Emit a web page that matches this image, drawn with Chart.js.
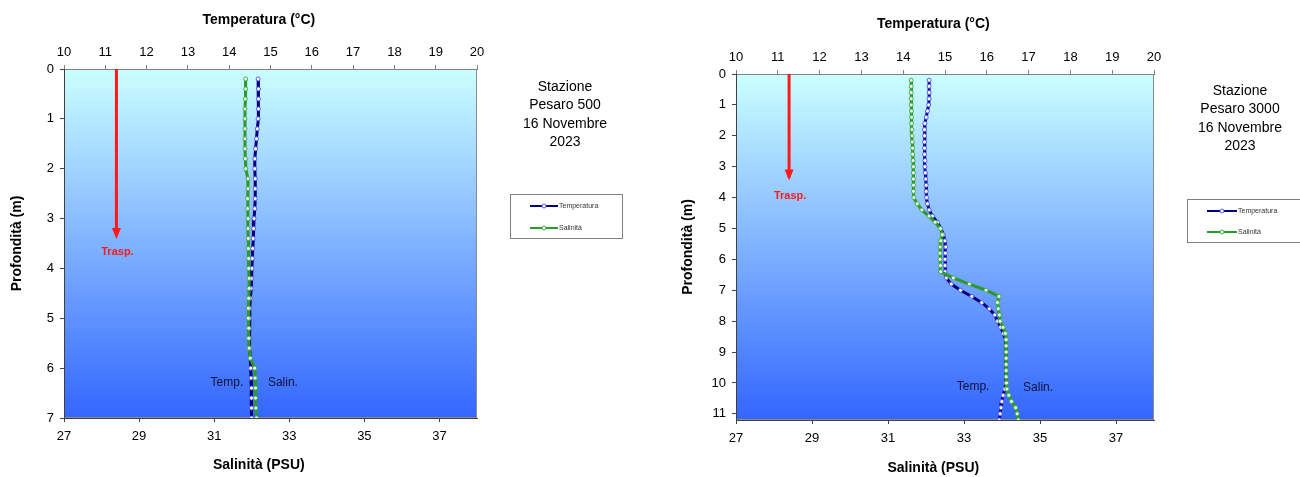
<!DOCTYPE html>
<html lang="it">
<head>
<meta charset="utf-8">
<title>Profili CTD Pesaro 500 / Pesaro 3000</title>
<script src="https://cdn.jsdelivr.net/npm/chart.js@4.4.1/dist/chart.umd.min.js"></script>
<style>
  html, body { margin: 0; padding: 0; background: #fff; }
  #wrap { position: relative; width: 1300px; height: 477px; overflow: hidden; }
  canvas { position: absolute; top: 0; }
  #chartL { left: 0; }
  #chartR { left: 650px; }
</style>
</head>
<body>
<div id="wrap">
  <canvas id="chartL" width="650" height="477"></canvas>
  <canvas id="chartR" width="650" height="477"></canvas>
</div>
<script>
// Stazione Pesaro 500
const depthL = [0.2, 0.4, 0.6, 0.8, 1.0, 1.2, 1.4, 1.6, 1.8, 2.0, 2.2, 2.4, 2.6, 2.8, 3.0, 3.2, 3.4, 3.6,
  3.8, 4.0, 4.2, 4.4, 4.6, 4.8, 5.0, 5.2, 5.4, 5.6, 5.8, 6.0, 6.2, 6.4, 6.6, 6.8, 7.0];
const tempL = [14.70, 14.71, 14.71, 14.71, 14.70, 14.68, 14.66, 14.64, 14.62, 14.62, 14.63, 14.63, 14.63,
  14.62, 14.60, 14.59, 14.58, 14.57, 14.56, 14.55, 14.54, 14.53, 14.51, 14.50, 14.49, 14.49, 14.49, 14.50,
  14.51, 14.52, 14.53, 14.54, 14.54, 14.54, 14.54];
const salL = [31.84, 31.84, 31.83, 31.82, 31.82, 31.82, 31.82, 31.82, 31.83, 31.84, 31.90, 31.90, 31.89,
  31.89, 31.90, 31.90, 31.91, 31.91, 31.92, 31.92, 31.93, 31.93, 31.92, 31.91, 31.91, 31.92, 31.92, 31.93,
  31.96, 32.08, 32.09, 32.10, 32.10, 32.11, 32.13];

// Stazione Pesaro 3000
const depthR = [0.2, 0.4, 0.6, 0.8, 1.0, 1.2, 1.4, 1.6, 1.8, 2.0, 2.2, 2.4, 2.6, 2.8, 3.0, 3.2, 3.4, 3.6,
  3.8, 4.0, 4.2, 4.4, 4.6, 4.8, 5.0, 5.2, 5.4, 5.6, 5.8, 6.0, 6.2, 6.4, 6.6, 6.8, 7.0, 7.2, 7.4, 7.6, 7.8,
  8.0, 8.2, 8.4, 8.6, 8.8, 9.0, 9.2, 9.4, 9.6, 9.8, 10.0, 10.2, 10.4, 10.6, 10.8, 11.0, 11.2];
const tempR = [14.62, 14.62, 14.62, 14.62, 14.61, 14.58, 14.55, 14.52, 14.51, 14.51, 14.51, 14.51, 14.51,
  14.52, 14.52, 14.53, 14.54, 14.55, 14.55, 14.56, 14.58, 14.62, 14.70, 14.82, 14.90, 14.96, 15.00, 15.02,
  15.01, 15.00, 15.00, 15.00, 15.03, 15.15, 15.37, 15.64, 15.88, 16.06, 16.19, 16.26, 16.33, 16.40, 16.44,
  16.46, 16.46, 16.46, 16.46, 16.46, 16.46, 16.45, 16.43, 16.39, 16.36, 16.34, 16.32, 16.30];
const salR = [31.61, 31.61, 31.61, 31.61, 31.61, 31.62, 31.62, 31.62, 31.63, 31.63, 31.64, 31.65, 31.65,
  31.66, 31.67, 31.67, 31.67, 31.67, 31.67, 31.68, 31.77, 31.89, 32.08, 32.24, 32.38, 32.43, 32.39, 32.37,
  32.37, 32.37, 32.38, 32.39, 32.72, 33.14, 33.58, 33.92, 33.88, 33.90, 33.93, 33.95, 34.03, 34.09, 34.11,
  34.11, 34.11, 34.11, 34.11, 34.11, 34.11, 34.12, 34.13, 34.18, 34.25, 34.36, 34.40, 34.43];

// assi
const tempTicks = [10, 11, 12, 13, 14, 15, 16, 17, 18, 19, 20];
const salTicks = [27, 29, 31, 33, 35, 37];
const depthTicksL = [0, 1, 2, 3, 4, 5, 6, 7];
const depthTicksR = [0, 1, 2, 3, 4, 5, 6, 7, 8, 9, 10, 11];

// trasparenza (disco Secchi), m
const traspL = 3.35;
const traspR = 3.35;
const traspTemp = 11.27;

const stationL = ['Stazione', 'Pesaro 500', '16 Novembre', '2023'];
const stationR = ['Stazione', 'Pesaro 3000', '16 Novembre', '2023'];
const seriesNames = ['Temperatura', 'Salinità'];

const FONT = "'Liberation Sans', Arial, sans-serif";
const BLUE = '#00007a';
const BLUE_PT = '#5a5aff';
const GREEN = '#2a9a2a';
const GREEN_PT = '#3fb03f';
const RED = '#ff1a1a';

// i titoli in Excel stanno un po' a sinistra del centro: spazi finali
const PAD_TXT = '      ';

function toPoints(xs, ys) {
  return ys.map((d, i) => ({ x: xs[i], y: d }));
}

function drawLegend(ctx, lg) {
  ctx.fillStyle = '#fff';
  ctx.fillRect(lg.x, lg.y, lg.w, lg.h);
  ctx.strokeStyle = '#808080';
  ctx.lineWidth = 1;
  ctx.strokeRect(lg.x + 0.5, lg.y + 0.5, lg.w - 1, lg.h - 1);
  const cols = [[BLUE, BLUE_PT], [GREEN, GREEN_PT]];
  seriesNames.forEach((name, i) => {
    const yy = lg.y + lg.rows[i];
    ctx.strokeStyle = cols[i][0];
    ctx.lineWidth = 2;
    ctx.beginPath();
    ctx.moveTo(lg.x + lg.lx0, yy);
    ctx.lineTo(lg.x + lg.lx1, yy);
    ctx.stroke();
    ctx.fillStyle = '#fff';
    ctx.strokeStyle = cols[i][1];
    ctx.lineWidth = 1;
    ctx.beginPath();
    ctx.arc(lg.x + (lg.lx0 + lg.lx1) / 2, yy, 2, 0, Math.PI * 2);
    ctx.fill();
    ctx.stroke();
    ctx.fillStyle = '#333';
    ctx.font = '7px ' + FONT;
    ctx.textAlign = 'left';
    ctx.textBaseline = 'middle';
    ctx.fillText(name, lg.x + lg.lx1 + 1, yy);
  });
}

function makeChart(canvasId, cfg) {
  const decor = {
    id: 'decor',
    beforeDraw(chart) {
      const { ctx, chartArea: a } = chart;
      const g = ctx.createLinearGradient(0, a.top, 0, a.bottom);
      g.addColorStop(0, '#ccffff');
      g.addColorStop(1, '#3366ff');
      ctx.save();
      ctx.fillStyle = g;
      ctx.fillRect(a.left, a.top, a.right - a.left, a.bottom - a.top);
      ctx.strokeStyle = '#8c8c8c';
      ctx.lineWidth = 1;
      ctx.strokeRect(a.left + 0.5, a.top + 0.5, a.right - a.left - 1, a.bottom - a.top - 1);
      ctx.restore();
    },
    afterDatasetsDraw(chart) {
      const { ctx, scales } = chart;
      const ax = scales.xT.getPixelForValue(traspTemp);
      const ay = scales.y.getPixelForValue(cfg.trasp);
      ctx.save();
      // punta della freccia
      ctx.fillStyle = RED;
      ctx.beginPath();
      ctx.moveTo(ax - 4.5, ay - 8);
      ctx.lineTo(ax + 4.5, ay - 8);
      ctx.lineTo(ax, ay + 3);
      ctx.closePath();
      ctx.fill();
      ctx.font = 'bold 11px ' + FONT;
      ctx.textAlign = 'center';
      ctx.textBaseline = 'middle';
      ctx.fillText('Trasp.', ax + 1, ay + cfg.traspDy);
      // etichette dei profili
      ctx.font = '12px ' + FONT;
      ctx.fillStyle = '#10103a';
      ctx.fillText('Temp.', scales.xS.getPixelForValue(cfg.tempLabel[0]), scales.y.getPixelForValue(cfg.tempLabel[1]));
      ctx.fillText('Salin.', scales.xS.getPixelForValue(cfg.salLabel[0]), scales.y.getPixelForValue(cfg.salLabel[1]));
      ctx.restore();
    },
    afterDraw(chart) {
      const ctx = chart.ctx;
      ctx.save();
      ctx.fillStyle = '#000';
      ctx.font = '14px ' + FONT;
      ctx.textAlign = 'center';
      ctx.textBaseline = 'middle';
      cfg.station.forEach((line, i) => {
        ctx.fillText(line, cfg.stationX, cfg.stationY + i * 18.5);
      });
      drawLegend(ctx, cfg.legend);
      ctx.restore();
    }
  };

  const tickFont = { family: FONT, size: 13 };
  const titleFont = { family: FONT, size: 14, weight: 'bold' };

  return new Chart(document.getElementById(canvasId), {
    type: 'scatter',
    data: {
      datasets: [
        {
          label: seriesNames[1],
          data: toPoints(cfg.sal, cfg.depth),
          xAxisID: 'xS',
          yAxisID: 'y',
          showLine: true,
          borderColor: GREEN,
          borderWidth: 3,
          pointRadius: 2,
          pointBorderWidth: 1,
          pointBorderColor: GREEN_PT,
          pointBackgroundColor: '#ffffff',
          order: 1
        },
        {
          label: seriesNames[0],
          data: toPoints(cfg.temp, cfg.depth),
          xAxisID: 'xT',
          yAxisID: 'y',
          showLine: true,
          borderColor: BLUE,
          borderWidth: 3,
          pointRadius: 2,
          pointBorderWidth: 1,
          pointBorderColor: BLUE_PT,
          pointBackgroundColor: '#ffffff',
          order: 2
        },
        {
          label: 'Trasp.',
          data: [{ x: traspTemp, y: 0 }, { x: traspTemp, y: cfg.trasp }],
          xAxisID: 'xT',
          yAxisID: 'y',
          showLine: true,
          borderColor: RED,
          borderWidth: 3,
          pointRadius: 0,
          order: 0
        }
      ]
    },
    options: {
      responsive: false,
      animation: false,
      devicePixelRatio: 1,
      layout: { padding: { left: 0, right: cfg.padR, top: cfg.padT, bottom: 0 } },
      plugins: { legend: { display: false }, tooltip: { enabled: false } },
      scales: {
        xT: {
          type: 'linear',
          position: 'top',
          min: 10,
          max: 20,
          afterBuildTicks: s => { s.ticks = tempTicks.map(v => ({ value: v })); },
          afterFit: s => { s.height = 69; },
          ticks: { font: tickFont, color: '#000', padding: 5, maxRotation: 0 },
          grid: { drawOnChartArea: false, tickLength: 4, color: '#808080' },
          border: { color: '#808080' },
          title: { display: true, text: 'Temperatura (°C)' + PAD_TXT, font: titleFont, color: '#000', padding: { top: cfg.topTitlePad, bottom: 0 } }
        },
        xS: {
          type: 'linear',
          position: 'bottom',
          min: 27,
          max: 38,
          afterBuildTicks: s => { s.ticks = salTicks.map(v => ({ value: v })); },
          afterFit: s => { s.height = cfg.bottomH; },
          ticks: { font: tickFont, color: '#000', padding: 7, maxRotation: 0 },
          grid: { drawOnChartArea: false, tickLength: 4, color: '#404040' },
          border: { color: '#404040' },
          title: { display: true, text: 'Salinità (PSU)' + PAD_TXT, font: titleFont, color: '#000', padding: { top: 0, bottom: cfg.bottomTitlePad } }
        },
        y: {
          type: 'linear',
          position: 'left',
          reverse: true,
          min: 0,
          max: cfg.maxDepth,
          afterBuildTicks: s => { s.ticks = cfg.depthTicks.map(v => ({ value: v })); },
          afterFit: s => { s.width = cfg.yW; },
          ticks: { font: tickFont, color: '#000', padding: 6 },
          grid: { drawOnChartArea: false, tickLength: 4, color: '#404040' },
          border: { color: '#404040' },
          title: { display: true, text: 'Profondità (m)', font: titleFont, color: '#000', padding: { top: cfg.yTitlePad, bottom: 0 } }
        }
      }
    },
    plugins: [decor]
  });
}

makeChart('chartL', {
  depth: depthL, temp: tempL, sal: salL,
  maxDepth: 7, depthTicks: depthTicksL, trasp: traspL, traspDy: 16,
  padT: 0, padR: 173, yW: 64, bottomH: 59, topTitlePad: 12, bottomTitlePad: 3.5, yTitlePad: 8.5,
  tempLabel: [31.34, 6.3], salLabel: [32.83, 6.3],
  station: stationL, stationX: 565, stationY: 87,
  legend: { x: 510, y: 194, w: 113, h: 45, lx0: 20, lx1: 48, rows: [12, 34] }
});

makeChart('chartR', {
  depth: depthR, temp: tempR, sal: salR,
  maxDepth: 11.2, depthTicks: depthTicksR, trasp: traspR, traspDy: 18,
  padT: 5, padR: 146, yW: 86, bottomH: 57, topTitlePad: 10.5, bottomTitlePad: 0.5, yTitlePad: 29.5,
  tempLabel: [33.24, 10.13], salLabel: [34.95, 10.16],
  station: stationR, stationX: 590, stationY: 91,
  legend: { x: 537, y: 199, w: 116, h: 44, lx0: 20, lx1: 50, rows: [12, 33] }
});
</script>
</body>
</html>
